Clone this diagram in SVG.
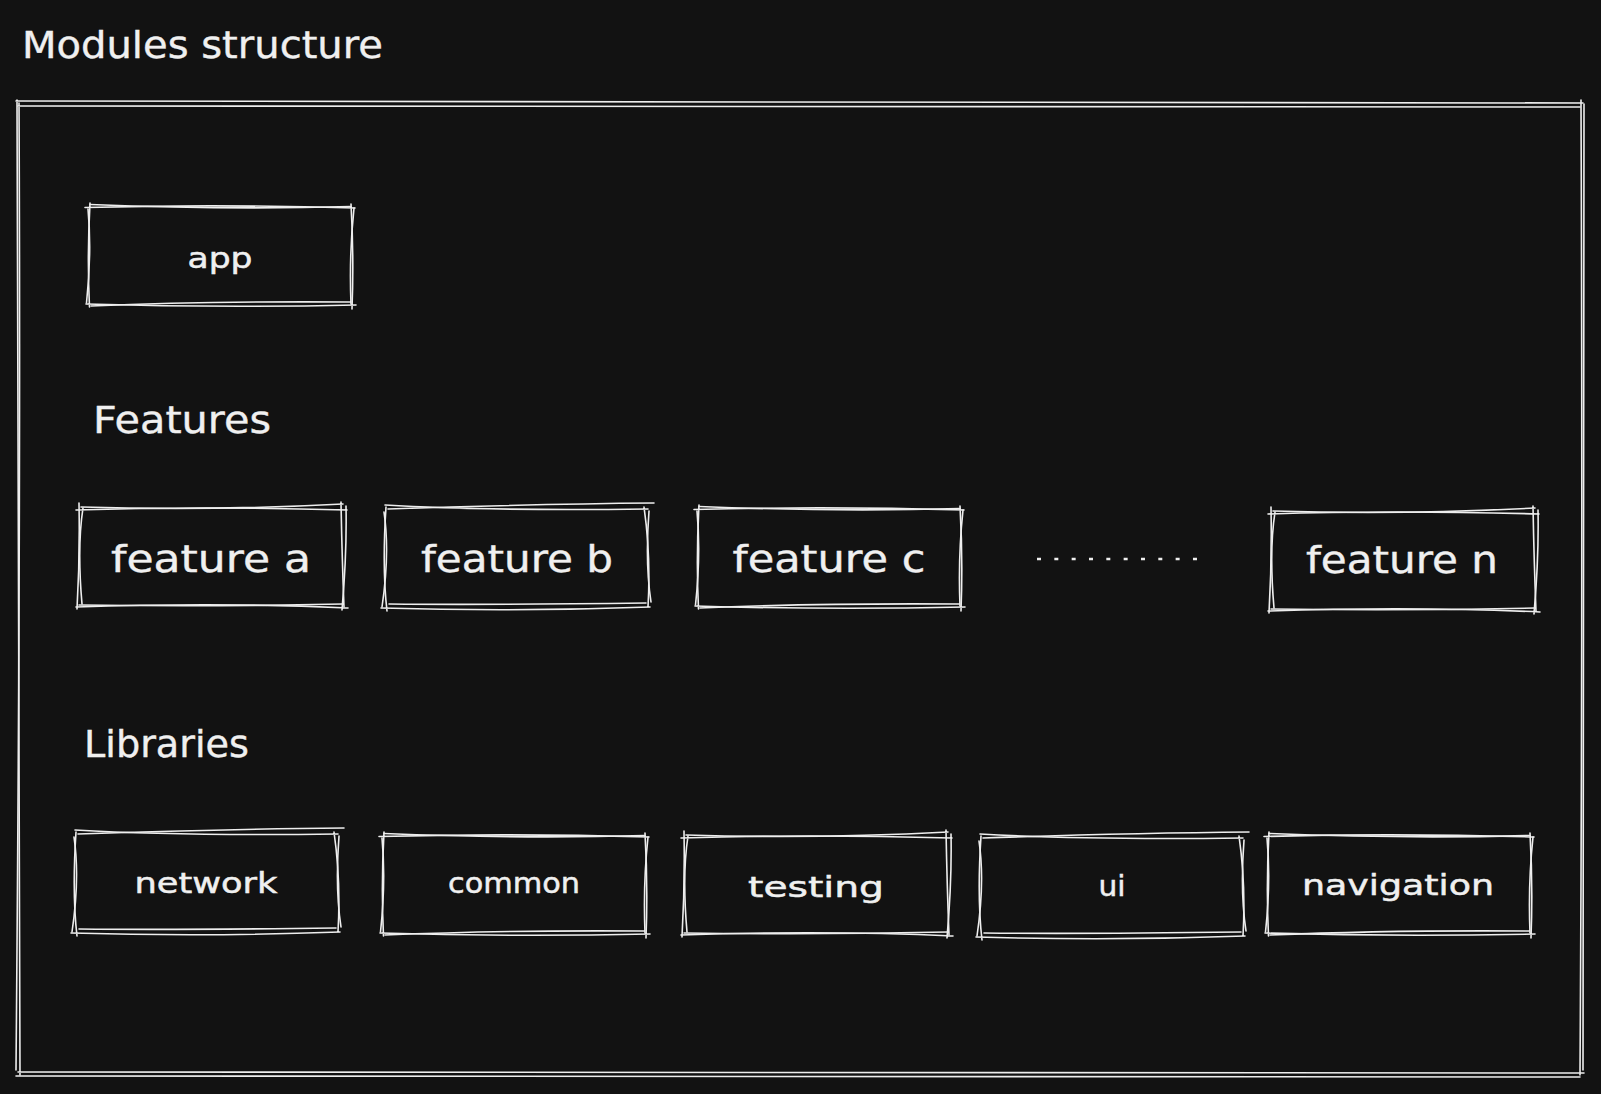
<svg xmlns="http://www.w3.org/2000/svg" xmlns:xlink="http://www.w3.org/1999/xlink" width="1601" height="1094" viewBox="0 0 1601 1094">
  <style>
    .sk { fill: none; stroke: #eeeeee; stroke-width: 1.6; stroke-linecap: round; }
    .big { font-family: "DejaVu Sans", "Liberation Sans", sans-serif; font-size: 38px; fill: #f0f0f0; stroke: #f0f0f0; stroke-width: 0.4; }
    .small { font-family: "DejaVu Sans", "Liberation Sans", sans-serif; font-size: 29px; fill: #f0f0f0; stroke: #f0f0f0; stroke-width: 0.5; }
    .mid { text-anchor: middle; }
  </style>
  <defs>
    <g id="sk1">
      <path class="sk" d="M -4 0.5 Q 130 -3 266 1 M 262 -3 Q 265 50 263 102 M 267 98 Q 130 101 -3 97 M 0.5 100 Q -2 50 1 -4"/>
      <path class="sk" d="M 1 -2.5 Q 140 3 262 -0.5 M 265 1 Q 260 48 262 97 M 261 95 Q 120 94 2 99 M -2.5 96 Q 3 45 -1 2"/>
    </g>
    <g id="sk2">
      <path class="sk" d="M 1 0 Q 131 4 263 -3 M 261 -5 Q 262 50 264 100 M 263 97 Q 131 100 -1 98 M -3 102 Q 0 50 -1 -4"/>
      <path class="sk" d="M -4 3 Q 120 -1 267 3 M 266 -1 Q 267 45 262 103 M 268 101 Q 140 95 -4 100 M 2 97 Q -3 40 3 1"/>
    </g>
    <g id="sk3">
      <path class="sk" d="M -1 -3 Q 100 3 262 1 M 258 -1 Q 265 48 262 99 M 264 99 Q 130 104 -5 100 M 1 103 Q -4 60 0 -1"/>
      <path class="sk" d="M 2 1 Q 150 -4 268 -5 M 263 3 Q 259 55 265 94 M 260 95 Q 100 97 3 96 M -4 99 Q 4 45 -2 4"/>
    </g>
  </defs>
  <rect x="0" y="0" width="1601" height="1094" fill="#121212"/>

  <g id="title">
    <text class="big" x="22" y="58" textLength="361" lengthAdjust="spacingAndGlyphs">Modules structure</text>
  </g>

  <g id="container">
    <path class="sk" d="M 16 101 Q 800 99 1583 103 M 1581 100 Q 1583 600 1580 1075 M 1584 1073 Q 800 1070 18 1072 M 20 1075 Q 18 600 17 100"/>
    <path class="sk" d="M 18 106 Q 700 104 1580 107 M 1584 104 Q 1585 500 1583 1070 M 1580 1077 Q 900 1078 16 1076 M 16 1070 Q 21 500 19 103"/>
  </g>

  <g id="app">
    <use xlink:href="#sk1" href="#sk1" transform="translate(89,207)"/>
    <text class="small mid" x="220" y="268" textLength="65" lengthAdjust="spacingAndGlyphs">app</text>
  </g>

  <g id="features-label">
    <text class="big" x="93" y="433" textLength="178" lengthAdjust="spacingAndGlyphs">Features</text>
  </g>

  <g id="feature-a">
    <use xlink:href="#sk2" href="#sk2" transform="translate(80,507)"/>
    <text class="big mid" x="211" y="572" textLength="200" lengthAdjust="spacingAndGlyphs">feature a</text>
  </g>
  <g id="feature-b">
    <use xlink:href="#sk3" href="#sk3" transform="translate(386,508)"/>
    <text class="big mid" x="517" y="572" textLength="192" lengthAdjust="spacingAndGlyphs">feature b</text>
  </g>
  <g id="feature-c">
    <use xlink:href="#sk1" href="#sk1" transform="translate(698,509)"/>
    <text class="big mid" x="829" y="572" textLength="193" lengthAdjust="spacingAndGlyphs">feature c</text>
  </g>
  <g id="ellipsis">
    <line x1="1037" y1="559" x2="1197" y2="559" stroke="#eeeeee" stroke-width="2.6" stroke-dasharray="4 13.33"/>
  </g>
  <g id="feature-n">
    <use xlink:href="#sk2" href="#sk2" transform="translate(1272,511)"/>
    <text class="big mid" x="1402" y="573" textLength="192" lengthAdjust="spacingAndGlyphs">feature n</text>
  </g>

  <g id="libraries-label">
    <text class="big" x="84" y="757" textLength="165" lengthAdjust="spacingAndGlyphs">Libraries</text>
  </g>

  <g id="network">
    <use xlink:href="#sk3" href="#sk3" transform="translate(76,833)"/>
    <text class="small mid" x="206" y="893" textLength="143" lengthAdjust="spacingAndGlyphs">network</text>
  </g>
  <g id="common">
    <use xlink:href="#sk1" href="#sk1" transform="translate(383,836)"/>
    <text class="small mid" x="514" y="893" textLength="132" lengthAdjust="spacingAndGlyphs">common</text>
  </g>
  <g id="testing">
    <use xlink:href="#sk2" href="#sk2" transform="translate(685,835)"/>
    <text class="small mid" x="816" y="897" textLength="136" lengthAdjust="spacingAndGlyphs">testing</text>
  </g>
  <g id="ui">
    <use xlink:href="#sk3" href="#sk3" transform="translate(981,837)"/>
    <text class="small mid" x="1112" y="896" textLength="27" lengthAdjust="spacingAndGlyphs">ui</text>
  </g>
  <g id="navigation">
    <use xlink:href="#sk1" href="#sk1" transform="translate(1268,836)"/>
    <text class="small mid" x="1398" y="895" textLength="192" lengthAdjust="spacingAndGlyphs">navigation</text>
  </g>

  <g id="connectors"/>
</svg>
